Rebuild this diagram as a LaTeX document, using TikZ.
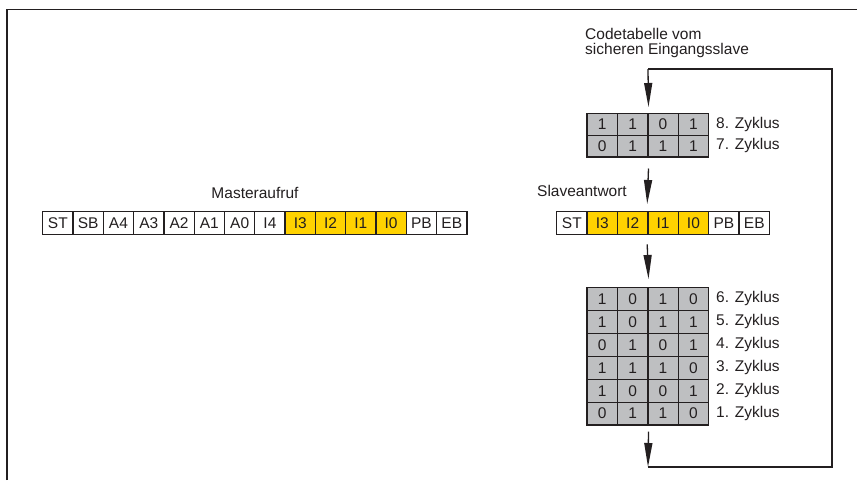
\documentclass[tikz,border=0pt]{standalone}
\usepackage{fontspec}
\setmainfont{Liberation Sans}
\usetikzlibrary{arrows.meta}
\definecolor{ink}{HTML}{231F20}
\definecolor{gelb}{HTML}{FFD200}
\definecolor{grau}{HTML}{BEBFC1}
\tikzset{
  cell/.style={draw=ink, line width=1.3pt, inner sep=0pt, minimum width=30.4pt,
    font=\fontsize{15.5}{15}\selectfont, text=ink, anchor=north west},
  wcell/.style={cell, fill=white, minimum height=23pt},
  ycell/.style={cell, fill=gelb, minimum height=23pt},
  gcell/.style={cell, fill=grau},
  lbl/.style={font=\fontsize{15.5}{15}\selectfont, text=ink, inner sep=0pt},
  arr/.style={draw=ink, line width=1.3pt, -{Triangle[length=24pt,width=8pt]}},
  loopline/.style={draw=ink, line width=1.3pt},
}
\begin{document}
\begin{tikzpicture}[x=1pt,y=-1pt]
\useasboundingbox (0,0) rectangle (857,480);
\fill[white] (0,0) rectangle (857,480);
% frame
\coordinate (fa) at (7,480);
\coordinate (fb) at (7,9.5);
\coordinate (fc) at (857,9.5);
\draw[ink, line width=1.3pt] (fa) -- (fb) -- (fc);
% master row
\foreach \t [count=\i] in {ST,SB,A4,A3,A2,A1,A0,I4}
  \node[wcell] (m\i) at ({42+(\i-1)*30.3},211) {\t};
\foreach \t [count=\i from 9] in {I3,I2,I1,I0}
  \node[ycell] (m\i) at ({42+(\i-1)*30.3},211) {\t};
\foreach \t [count=\i from 13] in {PB,EB}
  \node[wcell] (m\i) at ({42+(\i-1)*30.3},211) {\t};
\node[lbl, anchor=base] (mlab) at (255,198.3) {Masteraufruf};
% slave row
\node[wcell] (s1) at (556,211) {ST};
\foreach \t [count=\i from 2] in {I3,I2,I1,I0}
  \node[ycell] (s\i) at ({556+(\i-1)*30.4},211) {\t};
\foreach \t [count=\i from 6] in {PB,EB}
  \node[wcell] (s\i) at ({556+(\i-1)*30.4},211) {\t};
\node[lbl, anchor=base west] (slab) at (537,196.7) {Slaveantwort};
% top table
\foreach \row [count=\r] in {{1,1,0,1},{0,1,1,1}}
  \foreach \v [count=\c] in \row
    \node[gcell, minimum height=21.6pt] (t-\r-\c) at ({586.4+(\c-1)*30.4},{113+(\r-1)*21.6}) {\v};
\node[lbl, anchor=west] (tz1) at (716,124) {8. Zyklus};
\node[lbl, anchor=west] (tz2) at (716,145.6) {7. Zyklus};
% bottom table
\foreach \row [count=\r] in {{1,0,1,0},{1,0,1,1},{0,1,0,1},{1,1,1,0},{1,0,0,1},{0,1,1,0}}
  \foreach \v [count=\c] in \row
    \node[gcell, minimum height=22.9pt] (b-\r-\c) at ({586.4+(\c-1)*30.4},{287+(\r-1)*22.9}) {\v};
\foreach \z [count=\r] in {6,5,4,3,2,1}
  \node[lbl, anchor=west] (bz\r) at (716,{298.5+(\r-1)*22.9}) {\z. Zyklus};
% caption
\node[lbl, anchor=base west, align=left] (code) at (585,54.3)
  {Codetabelle vom\\sicheren Eingangsslave};
% arrows
\coordinate (lb) at (648,467);
\coordinate (lr1) at (832,467);
\coordinate (lr2) at (832,69);
\coordinate (lt) at (648,69);
\draw[arr] ([yshift=-6pt]b-6-2.south east) -- (lb);
\draw[loopline] (lb) -- (lr1) -- (lr2) -- (lt);
\draw[arr] (lt) -- ([yshift=6pt]t-1-2.north east);
\draw[arr] ([yshift=-11pt]t-2-2.south east) -- ([yshift=7pt]s4.north west);
\draw[arr] ([yshift=-9pt]s4.south west) -- ([yshift=8pt]b-1-2.north east);
\end{tikzpicture}
\end{document}
